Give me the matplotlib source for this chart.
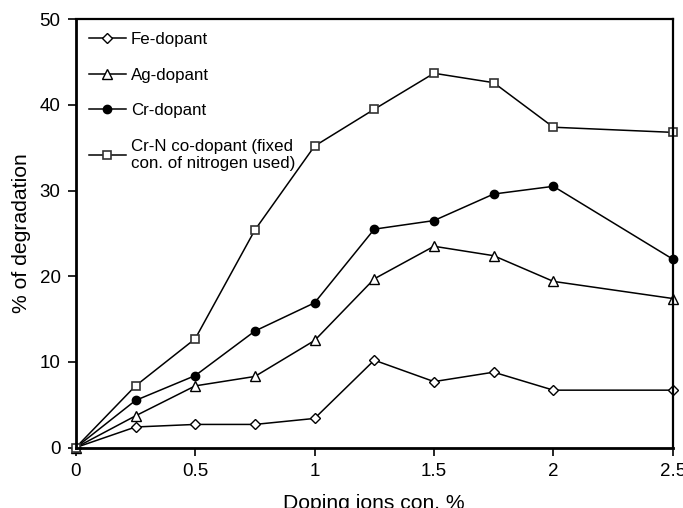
import matplotlib
matplotlib.use('Agg')
import matplotlib.pyplot as plt

# doping concentration (%)
doping = [0, 0.25, 0.5, 0.75, 1.0, 1.25, 1.5, 1.75, 2.0, 2.5]

# % of degradation for each dopant
fe = [0, 2.4, 2.7, 2.7, 3.4, 10.2, 7.7, 8.8, 6.7, 6.7]
ag = [0, 3.7, 7.2, 8.3, 12.5, 19.7, 23.5, 22.4, 19.4, 17.4]
cr = [0, 5.5, 8.4, 13.6, 16.9, 25.5, 26.5, 29.6, 30.5, 22.0]
crn = [0, 7.2, 12.7, 25.4, 35.2, 39.5, 43.7, 42.6, 37.4, 36.8]

labels = ['Fe-dopant', 'Ag-dopant', 'Cr-dopant',
          'Cr-N co-dopant (fixed\ncon. of nitrogen used)']

plt.rcParams['font.family'] = ['Liberation Sans', 'DejaVu Sans']

fig = plt.figure(figsize=(6.83, 5.08), dpi=100)
ax = fig.add_axes([0.111, 0.119, 0.874, 0.843])

ax.plot(doping, fe, color='black', lw=1.1, marker='D', ms=5,
        mfc='white', mec='black', mew=1.0, label=labels[0], clip_on=False)
ax.plot(doping, ag, color='black', lw=1.1, marker='^', ms=6.5,
        mfc='white', mec='black', mew=1.0, label=labels[1], clip_on=False)
ax.plot(doping, cr, color='black', lw=1.1, marker='o', ms=6,
        mfc='black', mec='black', mew=1.0, label=labels[2], clip_on=False)
ax.plot(doping, crn, color='black', lw=1.1, marker='s', ms=5.5,
        mfc='white', mec='#333333', mew=1.2, label=labels[3], clip_on=False)

ax.set_xlim(0, 2.5)
ax.set_ylim(0, 50)
ax.set_xticks([0, 0.5, 1, 1.5, 2, 2.5])
ax.set_xticklabels(['0', '0.5', '1', '1.5', '2', '2.5'])
ax.set_yticks([0, 10, 20, 30, 40, 50])

ax.tick_params(axis='both', direction='out', length=6, width=1.2,
               labelsize=13.5, pad=5, colors='black')
ax.tick_params(top=False, right=False)

for side in ['left', 'bottom']:
    ax.spines[side].set_linewidth(2.0)
for side in ['top', 'right']:
    ax.spines[side].set_linewidth(1.6)

ax.set_xlabel('Doping ions con. %', fontsize=15.2, labelpad=10.5)
ax.set_ylabel('% of degradation', fontsize=15.2, labelpad=6)

leg = ax.legend(loc='upper left', frameon=False, fontsize=12.2,
                handlelength=2.2, handletextpad=0.3, labelspacing=1.22,
                borderaxespad=0.35, bbox_to_anchor=(0.0, 1.0))
leg.get_texts()[3].set_linespacing(1.15)

fig.savefig('out.png', dpi=100)
